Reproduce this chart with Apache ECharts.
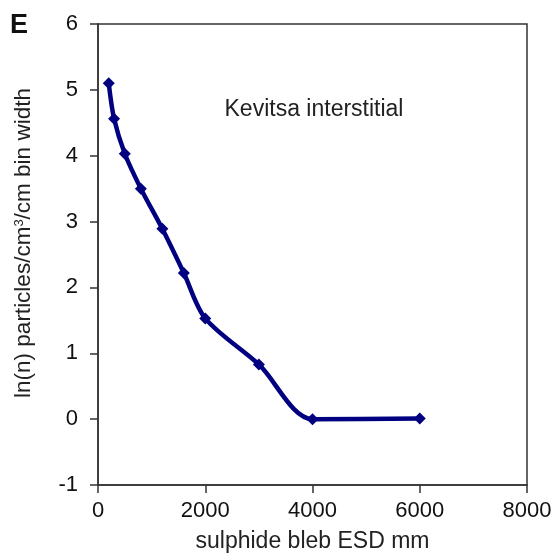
<!DOCTYPE html>
<html>
<head>
<meta charset="utf-8">
<script src="https://cdn.jsdelivr.net/npm/echarts@6/dist/echarts.min.js"></script>
<style>
html,body{margin:0;padding:0;background:#fff;}
#chart{width:553px;height:556px;}
</style>
</head>
<body>
<div id="chart"></div>
<script>
const xValues = [200, 300, 500, 800, 1200, 1600, 2000, 3000, 4000, 6000];
const yValues = [5.10, 4.56, 4.03, 3.50, 2.89, 2.22, 1.53, 0.83, 0.00, 0.01];
const xTicks = [0, 2000, 4000, 6000, 8000];
const yTicks = [-1, 0, 1, 2, 3, 4, 5, 6];
const panelLabel = 'E';
const annotation = 'Kevitsa interstitial';
const xTitle = 'sulphide bleb ESD mm';

const chart = echarts.init(document.getElementById('chart'), null, {renderer: 'canvas'});
const FONT = 'Liberation Sans, Arial, sans-serif';
const axisColor = '#333';
const textColor = '#222';

chart.setOption({
  animation: false,
  backgroundColor: '#fff',
  grid: {left: 98, right: 26, top: 24, bottom: 71, outerBoundsMode: 'none', containLabel: false,
    show: true, borderColor: axisColor, borderWidth: 1.5},
  xAxis: {
    type: 'value',
    min: xTicks[0], max: xTicks[xTicks.length - 1], interval: 2000,
    axisLine: {show: true, onZero: false, lineStyle: {color: axisColor, width: 1.5}},
    axisTick: {show: true, length: 8, lineStyle: {color: axisColor, width: 1.5}},
    splitLine: {show: false},
    axisLabel: {color: '#111', fontSize: 22, fontFamily: FONT, margin: 15, formatter: v => String(v)},
    name: xTitle, nameLocation: 'middle', nameGap: 45,
    nameTextStyle: {color: textColor, fontSize: 23, fontFamily: FONT}
  },
  yAxis: {
    type: 'value',
    min: yTicks[0], max: yTicks[yTicks.length - 1], interval: 1,
    axisLine: {show: true, onZero: false, lineStyle: {color: axisColor, width: 1.5}},
    axisTick: {show: true, length: 8, lineStyle: {color: axisColor, width: 1.5}},
    splitLine: {show: false},
    axisLabel: {color: '#111', fontSize: 22, fontFamily: FONT, margin: 20, formatter: v => String(v)}
  },
  graphic: [
    {type: 'text', left: 10, top: 12, style: {text: panelLabel, font: 'bold 27px ' + FONT, fill: '#111'}},
    {type: 'text', x: 314, y: 110, style: {text: annotation, font: '23px ' + FONT, fill: textColor, align: 'center', verticalAlign: 'middle'}},
    {type: 'text', x: 24, y: 243, rotation: Math.PI / 2,
      style: {
        text: '{a|ln(n) particles/cm}{s|3}{a|/cm bin width}',
        align: 'center', verticalAlign: 'middle',
        rich: {
          a: {fontSize: 22.5, fontFamily: FONT, fill: textColor, color: textColor},
          s: {fontSize: 13, fontFamily: FONT, fill: textColor, color: textColor, verticalAlign: 'top', padding: [0, 0, 10, 0]}
        }
      }}
  ],
  series: [{
    type: 'line',
    data: xValues.map((x, i) => [x, yValues[i]]),
    smooth: 0.3,
    symbol: 'diamond', symbolSize: 12,
    lineStyle: {color: '#000080', width: 4.5},
    itemStyle: {color: '#000080'}
  }]
});
</script>
</body>
</html>
